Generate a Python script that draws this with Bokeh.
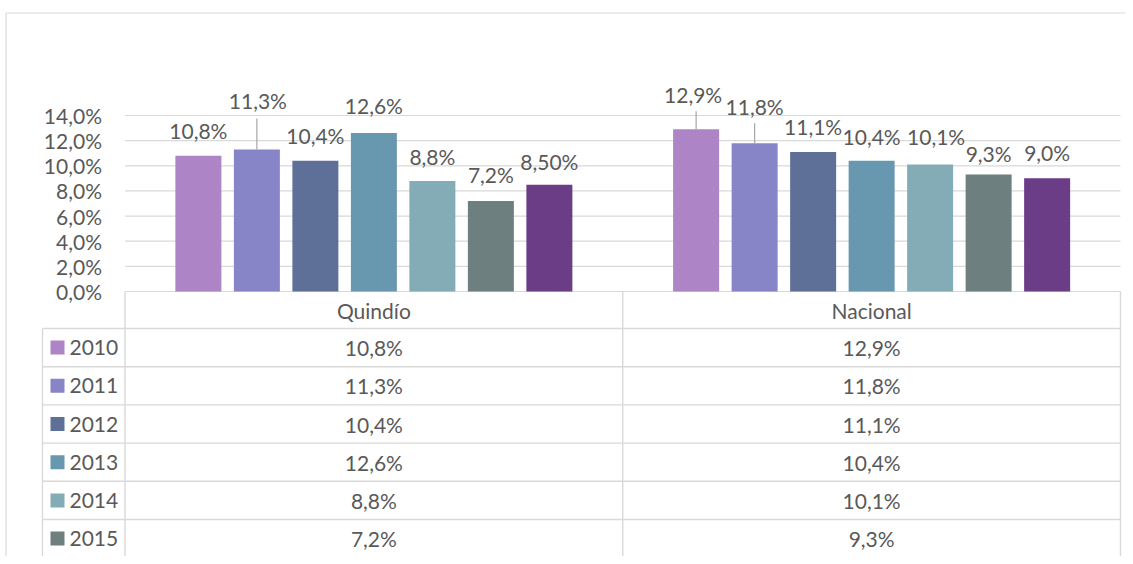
from bokeh.plotting import figure
from bokeh.models import Range1d, ColumnDataSource
from bokeh.core.properties import value
from bokeh.embed import file_html
from bokeh.resources import INLINE

# ---------------- data ----------------
categories = ["Quindío", "Nacional"]
years = ["2010", "2011", "2012", "2013", "2014", "2015", "2016"]
quindio = [10.8, 11.3, 10.4, 12.6, 8.8, 7.2, 8.5]
nacional = [12.9, 11.8, 11.1, 10.4, 10.1, 9.3, 9.0]
quindio_labels = ["10,8%", "11,3%", "10,4%", "12,6%", "8,8%", "7,2%", "8,50%"]
nacional_labels = ["12,9%", "11,8%", "11,1%", "10,4%", "10,1%", "9,3%", "9,0%"]
table_quindio = ["10,8%", "11,3%", "10,4%", "12,6%", "8,8%", "7,2%", "8,5%"]
table_nacional = ["12,9%", "11,8%", "11,1%", "10,4%", "10,1%", "9,3%", "9,0%"]
y_ticks = [0, 2, 4, 6, 8, 10, 12, 14]
y_tick_labels = ["0,0%", "2,0%", "4,0%", "6,0%", "8,0%", "10,0%", "12,0%", "14,0%"]

# ---------------- style ----------------
colors = ["#AD84C6", "#8784C7", "#5E7098", "#6897B0", "#84ACB6", "#6E7F80", "#6B3D87"]
# label offsets above bar top (px), x nudges (px), leader lengths (px)
q_label_dy = [25, 49, 25, 27.5, 24, 26, 23.5]
n_label_dy = [34.5, 37, 25, 24.5, 28.5, 21.5, 26]
q_label_dx = [0, 1, 0, 0, 0, 0, 0]
n_label_dx = [-3, 0, 0, 0, 6, 0, 0]
q_leader = [0, 31, 0, 0, 0, 0, 0]
n_leader = [18, 20, 0, 0, 0, 0, 0]

FONT = value("Lato")
FS = "21px"
TXT = "#595959"
GRID = "#D9D9D9"

W, H = 1125, 556
OFF = 0
PLOT_L, PLOT_R, Y0 = 124.5, 1120.0, 291.0
PX = (PLOT_R - PLOT_L) / len(categories)
PY = 12.57
BAR_W = 46 / PX
BAR_SP = 58.5 / PX
HEADER_H = 37.0
ROW_H = 38.2
LEG_L = 42.0

p = figure(
    width=W, height=H,
    x_range=Range1d((OFF - PLOT_L) / PX, (OFF + W - PLOT_L) / PX),
    y_range=Range1d((Y0 - (OFF + H)) / PY, (Y0 - OFF) / PY),
    x_axis_type=None, y_axis_type=None,
    toolbar_location=None, output_backend="svg",
    min_border=0, outline_line_color=None,
    background_fill_color="white", border_fill_color="white",
)
p.extra_x_ranges = {"px": Range1d(OFF, OFF + W)}
p.extra_y_ranges = {"px": Range1d(OFF + H, OFF)}

# outer chart border (left & top)
p.segment(x0=[5.5, 5.5], x1=[5.5, OFF + W], y0=[12.5, 12.5], y1=[OFF + H, 12.5],
          x_range_name="px", y_range_name="px", line_color=GRID, line_width=1.2)

# gridlines
ncat = len(categories)
p.segment(x0=[0] * len(y_ticks), x1=[ncat] * len(y_ticks), y0=y_ticks, y1=y_ticks,
          line_color=GRID, line_width=1.2)

# y tick labels
p.text(x=[0] * len(y_ticks), y=y_ticks, text=y_tick_labels, x_offset=-23,
       text_align="right", text_baseline="middle", text_font=FONT,
       text_font_size=FS, text_color=TXT)

# bars, labels, leaders
series = [quindio, nacional]
labels = [quindio_labels, nacional_labels]
dys = [q_label_dy, n_label_dy]
dxs = [q_label_dx, n_label_dx]
leads = [q_leader, n_leader]
for i, yr in enumerate(years):
    xs = [c + 0.5 + (i - 3) * BAR_SP for c in range(ncat)]
    tops = [series[c][i] for c in range(ncat)]
    src = ColumnDataSource(dict(x=xs, top=tops))
    p.vbar(x="x", top="top", width=BAR_W, source=src, fill_color=colors[i], line_color=None)
    for c in range(ncat):
        if leads[c][i] > 0:
            p.segment(x0=[xs[c]], x1=[xs[c]], y0=[tops[c]], y1=[tops[c] + leads[c][i] / PY],
                      line_color="#A6A6A6", line_width=1.2)
        p.text(x=[xs[c]], y=[tops[c]], text=[labels[c][i]], x_offset=dxs[c][i],
               y_offset=-dys[c][i], text_align="center", text_baseline="middle",
               text_font=FONT, text_font_size=FS, text_color=TXT)

# ---------------- data table ----------------
nrows = len(years)
bottom = OFF + H
row_tops = [Y0 + HEADER_H + k * ROW_H for k in range(nrows)]
row_mid = [t + ROW_H / 2 for t in row_tops]
vis = [k for k in range(nrows) if row_mid[k] + 10 < bottom]   # rows whose text fits
vmid = [row_mid[k] for k in vis]
# horizontal row lines
p.segment(x0=[LEG_L] * nrows, x1=[PLOT_R] * nrows, y0=row_tops, y1=row_tops,
          x_range_name="px", y_range_name="px", line_color=GRID, line_width=1.4)
# vertical lines at category boundaries
p.segment(x0=list(range(ncat + 1)), x1=list(range(ncat + 1)), y0=[Y0] * (ncat + 1),
          y1=[bottom] * (ncat + 1), y_range_name="px", line_color=GRID, line_width=1.4)
# left border of legend column
p.segment(x0=[LEG_L], x1=[LEG_L], y0=[row_tops[0]], y1=[bottom],
          x_range_name="px", y_range_name="px", line_color=GRID, line_width=1.4)
# header
p.text(x=[c + 0.5 for c in range(ncat)], y=[Y0 + HEADER_H / 2] * ncat, text=categories,
       y_range_name="px", text_align="center", text_baseline="middle",
       text_font=FONT, text_font_size=FS, text_color=TXT)
# legend keys & year labels
p.rect(x=[57] * len(vis), y=vmid, width=14, height=14,
       fill_color=[colors[k] for k in vis], line_color=None,
       x_range_name="px", y_range_name="px")
p.text(x=[69] * len(vis), y=vmid, text=[years[k] for k in vis],
       x_range_name="px", y_range_name="px",
       text_align="left", text_baseline="middle", text_font=FONT, text_font_size=FS,
       text_color=TXT)
# values
for c, col in enumerate([table_quindio, table_nacional]):
    p.text(x=[c + 0.5] * len(vis), y=vmid, text=[col[k] for k in vis], y_range_name="px",
           text_align="center", text_baseline="middle", text_font=FONT,
           text_font_size=FS, text_color=TXT)

open("out.html", "w").write(file_html(p, INLINE))
